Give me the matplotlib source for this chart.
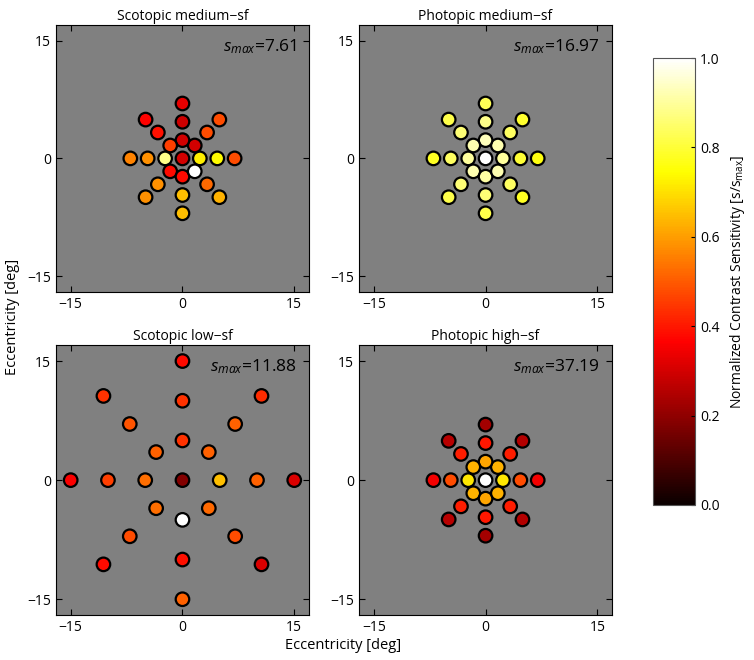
import numpy as np
import matplotlib
matplotlib.use("Agg")
import matplotlib.pyplot as plt
from matplotlib.colors import Normalize
from matplotlib.cm import ScalarMappable

plt.rcParams['font.family'] = ['Open Sans', 'DejaVu Sans']
plt.rcParams['mathtext.fontset'] = 'custom'
plt.rcParams['mathtext.rm'] = 'Open Sans'
plt.rcParams['mathtext.it'] = 'Open Sans:italic'

# directions of the test locations (deg): right, up-right, up, up-left, left, low-left, down, low-right
directions = [0, 45, 90, 135, 180, 225, 270, 315]

titles = ["Scotopic medium\u2212sf", "Photopic medium\u2212sf",
          "Scotopic low\u2212sf", "Photopic high\u2212sf"]
smax = [7.61, 16.97, 11.88, 37.19]
rings = [[2.33, 4.67, 7.0], [2.33, 4.67, 7.0], [5.0, 10.0, 15.0], [2.33, 4.67, 7.0]]

# normalized sensitivity: center, then one row per ring (order = directions)
scot_med_center = 0.30
scot_med = [[0.72, 0.30, 0.30, 0.46, 0.88, 0.38, 0.38, 1.00],
            [0.74, 0.48, 0.29, 0.39, 0.58, 0.58, 0.65, 0.52],
            [0.48, 0.48, 0.33, 0.37, 0.56, 0.58, 0.65, 0.63]]
phot_med_center = 1.0
phot_med = [[0.90, 0.92, 0.93, 0.92, 0.90, 0.92, 0.91, 0.92],
            [0.80, 0.84, 0.88, 0.86, 0.84, 0.86, 0.86, 0.84],
            [0.76, 0.79, 0.83, 0.82, 0.78, 0.82, 0.82, 0.78]]
scot_low_center = 0.18
scot_low = [[0.65, 0.51, 0.44, 0.51, 0.53, 0.53, 1.00, 0.52],
            [0.51, 0.51, 0.44, 0.49, 0.46, 0.48, 0.39, 0.48],
            [0.31, 0.43, 0.38, 0.44, 0.36, 0.38, 0.51, 0.31]]
phot_high_center = 1.0
phot_high = [[0.71, 0.63, 0.61, 0.63, 0.71, 0.63, 0.61, 0.63],
             [0.48, 0.41, 0.40, 0.41, 0.48, 0.41, 0.40, 0.41],
             [0.35, 0.25, 0.23, 0.26, 0.35, 0.26, 0.23, 0.25]]

centers = [scot_med_center, phot_med_center, scot_low_center, phot_high_center]
values = [scot_med, phot_med, scot_low, phot_high]

fig = plt.figure(figsize=(7.54, 6.6), dpi=100)
boxes = [[0.074, 0.558, 0.336, 0.404], [0.476, 0.558, 0.336, 0.404],
         [0.074, 0.068, 0.336, 0.409], [0.476, 0.068, 0.336, 0.409]]
norm = Normalize(0, 1)
cmap = plt.get_cmap('hot')

for i in range(4):
    ax = fig.add_axes(boxes[i])
    ax.set_facecolor('#808080')
    th = np.deg2rad(directions)
    xs = [0.0]
    ys = [0.0]
    cs = [centers[i]]
    for r, row in zip(rings[i], values[i]):
        xs += list(r * np.cos(th))
        ys += list(r * np.sin(th))
        cs += row
    ax.scatter(xs, ys, c=cs, cmap=cmap, norm=norm, s=95, edgecolors='black',
               linewidths=1.6, zorder=3)
    ax.set_xlim(-17, 17)
    ax.set_ylim(-17, 17)
    ax.set_xticks([-15, 0, 15])
    ax.set_yticks([-15, 0, 15])
    ax.tick_params(direction='in', top=True, right=True, length=4, labelsize=10)
    ax.set_title(titles[i], fontsize=10, pad=4)
    ax.text(0.95, 0.955, r'$s_{max}$=%.2f' % smax[i], transform=ax.transAxes,
            ha='right', va='top', fontsize=12.5)

cax = fig.add_axes([0.866, 0.235, 0.056, 0.677])
cb = fig.colorbar(ScalarMappable(norm=norm, cmap=cmap), cax=cax)
cb.set_ticks([0, 0.2, 0.4, 0.6, 0.8, 1.0])
cb.ax.set_yticklabels(['0.0', '0.2', '0.4', '0.6', '0.8', '1.0'])
cb.ax.tick_params(direction='in', length=3, labelsize=10)
cb.outline.set_edgecolor('#555555')
cb.outline.set_linewidth(0.8)
cb.set_label(r'Normalized Contrast Sensitivity [s/s$_{\mathrm{max}}$]', fontsize=10, labelpad=6)

fig.text(0.455, 0.022, 'Eccentricity [deg]', ha='center', va='center', fontsize=10.5)
fig.text(0.016, 0.52, 'Eccentricity [deg]', ha='center', va='center', rotation=90, fontsize=10.5)

fig.savefig('out.png', dpi=100)
